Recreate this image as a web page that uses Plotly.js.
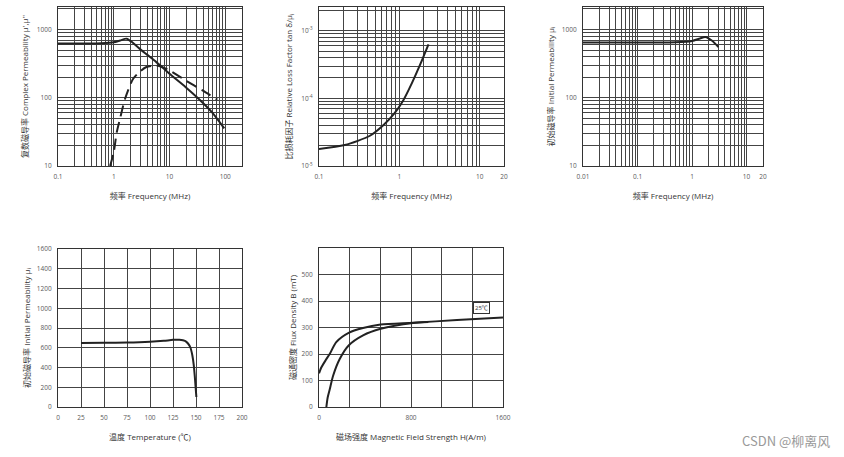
<!DOCTYPE html>
<html>
<head>
<meta charset="utf-8">
<script src="https://cdn.plot.ly/plotly-3.0.1.min.js"></script>
<style>html,body{margin:0;padding:0;background:#fff;}#chart{width:844px;height:457px;}</style>
</head>
<body>
<div id="chart"></div>
<script>
// ---- Data ----
// Plot 1: complex permeability vs frequency
const p1FreqReal = [0.1, 0.3, 0.6, 1.0, 1.3, 1.7, 2.2, 2.9, 4.0, 5.8, 7.5, 10, 19.5, 33.6, 58, 96];
const p1MuReal   = [625, 625, 630, 650, 690, 735, 640, 525, 425, 333, 277, 224, 143, 96, 61, 35.5];
const p1FreqImag = [0.86, 1.0, 1.13, 1.3, 1.59, 2.23, 3.0, 3.85, 5.0, 5.8, 7.5, 10, 19.5, 39, 72];
const p1MuImag   = [10, 16, 31, 50, 96, 190, 245, 282, 295, 298, 280, 252, 179, 128, 94];
// Plot 2: relative loss factor vs frequency
const p2Freq = [0.1, 0.209, 0.43, 0.63, 0.866, 1.12, 1.43, 1.82, 2.3];
const p2Loss = [1.78e-5, 2.04e-5, 2.8e-5, 4.0e-5, 6.0e-5, 9.4e-5, 1.68e-4, 3.2e-4, 6.3e-4];
// Plot 3: initial permeability vs frequency
const p3Freq = [0.01, 0.1, 0.5, 1.0, 1.4, 1.75, 2.3, 3.05];
const p3Mu   = [645, 645, 650, 680, 740, 775, 690, 555];
// Plot 4: initial permeability vs temperature
const p4Temp = [25, 50, 75, 100, 115, 125, 132, 138, 141.3, 144, 146, 147.5, 148.6, 149.5, 150.4];
const p4Mu   = [649, 650, 652, 660, 670, 680, 680, 670, 643, 600, 524, 430, 321, 210, 101];
// Plot 5: B-H curves
const p5H_upper = [0, 20, 60, 93, 150, 258, 383, 536, 817, 1200, 1600];
const p5B_upper = [127, 149, 178, 200, 245, 280, 298, 311, 318, 328, 338];
const p5H_lower = [64, 75, 93, 122, 180, 258, 383, 536, 817, 950];
const p5B_lower = [0, 35, 66, 117, 181, 232, 270, 295, 317, 321];
const p5Label = "25℃";

// Tick labels
const p1XTicks = [0.1, 1, 10, 100], p1XText = ["0.1", "1", "10", "100"];
const muYTicks = [10, 100, 1000], muYText = ["10", "100", "1000"];
const p2XTicks = [0.1, 1, 10, 20], p2XText = ["0.1", "1", "10", "20"];
const p2YTicks = [1e-5, 1e-4, 1e-3], p2YText = ["10<sup>-5</sup>", "10<sup>-4</sup>", "10<sup>-3</sup>"];
const p3XTicks = [0.01, 0.1, 1, 10, 20], p3XText = ["0.01", "0.1", "1", "10", "20"];
const p4XTicks = [0, 25, 50, 75, 100, 125, 150, 175, 200];
const p4YTicks = [0, 200, 400, 600, 800, 1000, 1200, 1400, 1600];
const p5XTicks = [0, 800, 1600];
const p5YTicks = [0, 100, 200, 300, 400, 500];

// ---- helpers ----
function logMinor(d0, d1) {
  const out = [];
  for (let d = d0; d <= d1; d++) for (let k = 2; k <= 9; k++) out.push(k * Math.pow(10, d));
  return out;
}
const W = 844, H = 457;
const FONT = "Open Sans, Noto Sans CJK SC, sans-serif";
const GRID = "#444";
const tickFont = {family: FONT, size: 6.5, color: "#5a5a5a"};
const titleFont = {family: FONT, size: 8, color: "#333"};
function dom(a, b, size) { return [a / size, b / size]; }
function ydom(top, bottom) { return [1 - bottom / H, 1 - top / H]; }

function baseAxis(extra) {
  return Object.assign({
    showline: true, mirror: true, linecolor: "#333", linewidth: 1,
    showgrid: true, gridcolor: GRID, gridwidth: 1,
    zeroline: false, ticks: "", tickfont: tickFont, fixedrange: true,
    automargin: false, ticklabelstandoff: 4
  }, extra);
}
function xTitle(t) { return {text: t, font: titleFont, standoff: 13}; }
function yTitle(t, s) { return {text: t, font: titleFont, standoff: s}; }

const line = {color: "#222", width: 2, shape: "spline", smoothing: 0.7};

const traces = [
  {x: p1FreqReal, y: p1MuReal, xaxis: "x", yaxis: "y", mode: "lines", line: line},
  {x: p1FreqImag, y: p1MuImag, xaxis: "x", yaxis: "y", mode: "lines",
   line: Object.assign({}, line, {dash: "11px,6px"})},
  {x: p2Freq, y: p2Loss, xaxis: "x2", yaxis: "y2", mode: "lines", line: line},
  {x: p3Freq, y: p3Mu, xaxis: "x3", yaxis: "y3", mode: "lines", line: line},
  {x: p4Temp, y: p4Mu, xaxis: "x4", yaxis: "y4", mode: "lines", line: line},
  {x: p5H_upper, y: p5B_upper, xaxis: "x5", yaxis: "y5", mode: "lines", line: line},
  {x: p5H_lower, y: p5B_lower, xaxis: "x5", yaxis: "y5", mode: "lines", line: line}
];

const minorGrid = {showgrid: true, gridcolor: GRID, gridwidth: 1};

const layout = {
  width: W, height: H, margin: {l: 0, r: 0, t: 0, b: 0},
  paper_bgcolor: "#fff", plot_bgcolor: "#fff", showlegend: false,
  font: {family: FONT},
  xaxis: baseAxis({type: "log", domain: dom(58, 242, W), range: [-1, 2.3], anchor: "y",
    tickmode: "array", tickvals: p1XTicks, ticktext: p1XText,
    minor: Object.assign({tickmode: "array", tickvals: logMinor(-1, 2)}, minorGrid),
    title: xTitle("频率 Frequency (MHz)")}),
  yaxis: baseAxis({type: "log", domain: ydom(7, 166), range: [1, 3.33], anchor: "x",
    tickmode: "array", tickvals: muYTicks, ticktext: muYText,
    minor: Object.assign({tickmode: "array", tickvals: logMinor(1, 3)}, minorGrid),
    title: yTitle("复数磁导率 Complex Permeability μ',μ''", 7)}),
  xaxis2: baseAxis({type: "log", domain: dom(319, 504, W), range: [-1, Math.log10(20)], anchor: "y2",
    tickmode: "array", tickvals: p2XTicks, ticktext: p2XText,
    minor: Object.assign({tickmode: "array", tickvals: logMinor(-1, 0)}, minorGrid),
    title: xTitle("频率 Frequency (MHz)")}),
  yaxis2: baseAxis({type: "log", domain: ydom(7, 166), range: [-5, -2.65], anchor: "x2",
    tickmode: "array", tickvals: p2YTicks, ticktext: p2YText,
    minor: Object.assign({tickmode: "array", tickvals: logMinor(-5, -3)}, minorGrid),
    title: yTitle("比损耗因子 Relative Loss Factor tan δ/μ<sub>i</sub>", 7)}),
  xaxis3: baseAxis({type: "log", domain: dom(583, 763, W), range: [-2, Math.log10(20)], anchor: "y3",
    tickmode: "array", tickvals: p3XTicks, ticktext: p3XText,
    minor: Object.assign({tickmode: "array", tickvals: logMinor(-2, 0)}, minorGrid),
    title: xTitle("频率 Frequency (MHz)")}),
  yaxis3: baseAxis({type: "log", domain: ydom(7, 166), range: [1, 3.33], anchor: "x3",
    tickmode: "array", tickvals: muYTicks, ticktext: muYText,
    minor: Object.assign({tickmode: "array", tickvals: logMinor(1, 3)}, minorGrid),
    title: yTitle("初始磁导率 Initial Permeability μ<sub>i</sub>", 6)}),
  xaxis4: baseAxis({domain: dom(58, 242, W), range: [0, 200], anchor: "y4",
    tickmode: "array", tickvals: p4XTicks,
    title: xTitle("温度 Temperature (℃)")}),
  yaxis4: baseAxis({domain: ydom(249, 407), range: [0, 1600], anchor: "x4",
    tickmode: "array", tickvals: p4YTicks,
    title: yTitle("初始磁导率 Initial Permeability μ<sub>i</sub>", 5)}),
  xaxis5: baseAxis({domain: dom(319, 503, W), range: [0, 1600], anchor: "y5",
    tickmode: "array", tickvals: p5XTicks,
    minor: Object.assign({dtick: 1600 / 6, tick0: 0}, minorGrid),
    title: xTitle("磁场强度 Magnetic Field Strength H(A/m)")}),
  yaxis5: baseAxis({domain: ydom(248, 407), range: [0, 600], anchor: "x5",
    tickmode: "array", tickvals: p5YTicks,
    minor: Object.assign({dtick: 100, tick0: 0}, minorGrid),
    title: yTitle("磁通密度 Flux Density B (mT)", 3)}),
  annotations: [
    {xref: "x5", yref: "y5", x: 1411, y: 372, text: p5Label, showarrow: false,
     font: {family: FONT, size: 6, color: "#333"}, bordercolor: "#333", borderwidth: 1,
     borderpad: 1, bgcolor: "#fff"},
    {xref: "paper", yref: "paper", x: 832 / W, y: 1 - 440 / H, xanchor: "right", yanchor: "middle",
     text: "CSDN @柳离风", showarrow: false,
     font: {family: "Noto Sans CJK SC, sans-serif", size: 13, color: "#999"}}
  ]
};

Plotly.newPlot("chart", traces, layout, {displayModeBar: false, staticPlot: true});
</script>
</body>
</html>
